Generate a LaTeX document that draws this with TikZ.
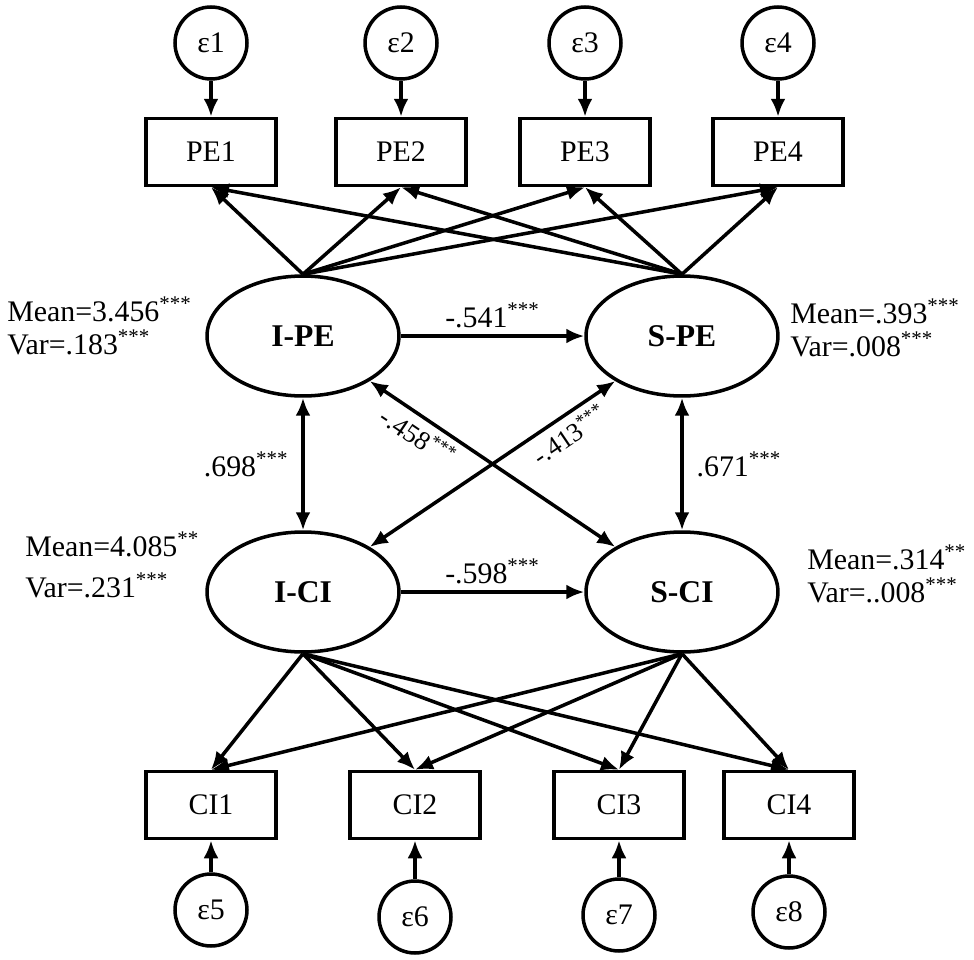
\documentclass[tikz,border=0pt]{standalone}
\usepackage{fontspec}
\setmainfont{Liberation Serif}
\usetikzlibrary{arrows.meta,shapes.geometric}

\newcommand{\semfont}{\fontsize{17}{19}\selectfont}
\newcommand{\sig}[1]{\textsuperscript{#1}}

\tikzset{
  obs/.style={draw, line width=2pt, minimum width=2.6cm, minimum height=1.34cm, inner sep=0pt},
  err/.style={draw, circle, line width=2pt, minimum size=1.44cm, inner sep=0pt},
  lat/.style={draw, ellipse, line width=2pt, minimum width=3.84cm, minimum height=2.4cm, inner sep=0pt, font=\fontsize{18}{20}\selectfont\bfseries},
  load/.style={-{Latex[length=0.36cm,width=0.3cm]}, line width=2pt},
  cov/.style={{Latex[length=0.36cm,width=0.3cm]}-{Latex[length=0.36cm,width=0.3cm]}, line width=2pt},
  stat/.style={align=left, anchor=west, inner sep=0pt},
}

\begin{document}
\begin{tikzpicture}[x=0.02cm, y=-0.02cm, every node/.style={font=\semfont}]
  \useasboundingbox (0,0) rectangle (974,960);

  % latent factors
  \node[lat] (IPE) at (303,336) {I-PE};
  \node[lat] (SPE) at (682,336) {S-PE};
  \node[lat] (ICI) at (303,592) {I-CI};
  \node[lat] (SCI) at (682,592) {S-CI};

  % indicators
  \node[obs] (PE1) at (211,152) {PE1};
  \node[obs] (PE2) at (401,152) {PE2};
  \node[obs] (PE3) at (585,152) {PE3};
  \node[obs] (PE4) at (778,152) {PE4};
  \node[obs] (CI1) at (211,805) {CI1};
  \node[obs] (CI2) at (415,805) {CI2};
  \node[obs] (CI3) at (619,805) {CI3};
  \node[obs] (CI4) at (789,805) {CI4};

  % error terms
  \node[err] (e1) at (211,43) {ε1};
  \node[err] (e2) at (401,43) {ε2};
  \node[err] (e3) at (585,43) {ε3};
  \node[err] (e4) at (778,43) {ε4};
  \node[err] (e5) at (211,910) {ε5};
  \node[err] (e6) at (415,917) {ε6};
  \node[err] (e7) at (619,915) {ε7};
  \node[err] (e8) at (789,912) {ε8};

  \foreach \i in {1,...,4} {
    \draw[load] (e\i) -- (PE\i);
    \draw[load] (IPE.north) -- (PE\i.south);
    \draw[load] (SPE.north) -- (PE\i.south);
    \draw[load] (ICI.south) -- (CI\i.north);
    \draw[load] (SCI.south) -- (CI\i.north);
  }
  \foreach \i/\j in {5/1,6/2,7/3,8/4}
    \draw[load] (e\i) -- (CI\j);

  % structural paths
  \draw[load] (IPE) -- node[above] (b1) {-.541\sig{***}} (SPE);
  \draw[load] (ICI) -- node[above] (b2) {-.598\sig{***}} (SCI);
  \draw[cov] (IPE) -- node[left, xshift=-4pt] (r1) {.698\sig{***}} (ICI);
  \draw[cov] (SPE) -- node[right, xshift=4pt] (r2) {.671\sig{***}} (SCI);
  \draw[cov] (IPE) -- node[pos=0.24, sloped, below, font=\fontsize{15}{17}\selectfont] (r3) {-.458\sig{***}} (SCI);
  \draw[cov] (ICI) -- node[pos=0.77, sloped, below, font=\fontsize{15}{17}\selectfont] (r4) {-.413\sig{***}} (SPE);

  % means and variances
  \node[stat] (mIPE) at (7,326) {Mean=3.456\sig{***}\\Var=.183\sig{***}};
  \node[stat] (mSPE) at (790,328) {Mean=.393\sig{***}\\Var=.008\sig{***}};
  \node[stat] (mICI) at (25,565) {Mean=4.085\sig{**}\\[4pt]Var=.231\sig{***}};
  \node[stat] (mSCI) at (807,574) {Mean=.314\sig{**}\\Var=..008\sig{***}};
\end{tikzpicture}
\end{document}
